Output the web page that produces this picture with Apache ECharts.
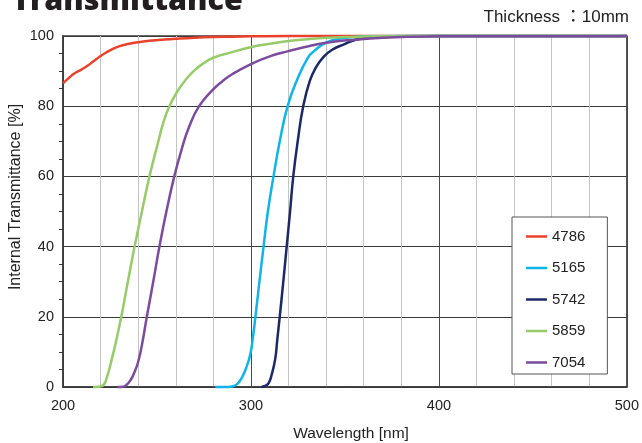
<!DOCTYPE html>
<html>
<head>
<meta charset="utf-8">
<script src="https://cdn.jsdelivr.net/npm/echarts@6/dist/echarts.min.js"></script>
<style>
html,body{margin:0;padding:0;background:#fff;}
#c{width:642px;height:443px;}
</style>
</head>
<body>
<div id="c"></div>
<script>
// ---- data ----
const seriesNames = ['4786', '5165', '5742', '5859', '7054'];
const seriesColors = ['#e8412c', '#10b4e8', '#1c2966', '#97cb6a', '#7b4c9e'];

const wl4786 = [200, 203, 206, 210, 213, 216, 220, 224, 228, 233, 238, 245, 252, 260, 270, 280, 290, 300, 320, 340, 360, 400, 450, 500];
const t4786  = [86.5, 88.0, 89.3, 90.5, 91.5, 92.7, 94.3, 95.6, 96.7, 97.5, 98.1, 98.6, 98.9, 99.2, 99.5, 99.7, 99.8, 99.9, 100, 100, 100, 100, 100, 100];

const wl5165 = [281, 288, 291, 293, 295.3, 297.5, 299.7, 301, 302.3, 304.5, 306.7, 309, 312, 315.5, 319.5, 324.3, 330.4, 334, 338.4, 343, 348, 355, 362, 380, 420, 500];
const t5165  = [0, 0, 0.3, 1.0, 2.8, 5.5, 9.5, 14, 19.7, 30, 40, 50, 60, 70.5, 80, 87.2, 93.9, 95.9, 97.7, 98.7, 99.3, 99.7, 99.9, 100, 100, 100];

const wl5742 = [305.5, 307.5, 309.3, 311, 312.9, 314, 315.3, 317.2, 319, 320.8, 322.5, 325, 327.8, 331.3, 334.5, 338.4, 343, 349.8, 355, 362, 380, 420, 500];
const t5742  = [0, 0.3, 1, 3.5, 8, 13.5, 20, 30, 40, 50, 60, 70.5, 80, 87.2, 91, 93.9, 96, 97.7, 98.8, 99.5, 99.9, 100, 100];

const wl5859 = [216, 219, 221.4, 223.5, 225.8, 228, 231, 234.5, 238.1, 242, 246, 250.4, 253.5, 256.6, 261.2, 265.4, 269.9, 275, 280, 290, 299.7, 310, 320, 330, 340, 350, 370, 400, 450, 500];
const t5859  = [0, 0.1, 0.5, 3.0, 7.6, 12.5, 20, 30, 40, 50, 60, 69.3, 75.5, 80, 84.5, 87.6, 90.2, 92.3, 93.8, 95.4, 96.8, 97.8, 98.6, 99.1, 99.5, 99.7, 99.9, 100, 100, 100];

const wl7054 = [229, 232, 234, 236, 238, 240, 242, 244.6, 248, 251.3, 255, 259.2, 263, 267, 272.4, 279.4, 285, 290, 300, 310, 320, 330, 340, 356.7, 370, 385, 400, 450, 490, 500];
const t7054  = [0, 0.1, 0.7, 2.0, 4.2, 7.2, 12, 20, 30, 40, 50, 60, 67.5, 74, 80, 84.5, 87.2, 89.1, 92, 94.2, 95.7, 97, 98.1, 99, 99.5, 99.8, 99.9, 99.9, 99.9, 100];

const xTicks = [200, 300, 400, 500];
const yTicks = [0, 20, 40, 60, 80, 100];

// ---- build ----
const wls = [wl4786, wl5165, wl5742, wl5859, wl7054];
const ts = [t4786, t5165, t5742, t5859, t7054];
const pair = (xs, ys) => xs.map((x, i) => [x, ys[i]]);

const chart = echarts.init(document.getElementById('c'), null, {renderer: 'canvas'});
const fontFam = '"Liberation Sans", Arial, "Noto Sans CJK JP", sans-serif';

chart.setOption({
  animation: false,
  backgroundColor: '#fff',
  grid: {left: 63, right: 12, top: 36, bottom: 56, show: true, borderColor: '#3a3a3a', borderWidth: 1.5, backgroundColor: 'transparent'},
  xAxis: {
    type: 'value', min: xTicks[0], max: xTicks[xTicks.length - 1], interval: 100,
    axisLine: {show: true, lineStyle: {color: '#3a3a3a', width: 1.5}},
    axisTick: {show: false},
    axisLabel: {color: '#222', fontSize: 14.5, fontFamily: fontFam, margin: 12},
    splitLine: {show: true, lineStyle: {color: '#4a4a4a', width: 1}},
    minorTick: {show: false, splitNumber: 5},
    minorSplitLine: {show: true, lineStyle: {color: '#c4c4c4', width: 1}}
  },
  yAxis: {
    type: 'value', min: yTicks[0], max: yTicks[yTicks.length - 1], interval: 20,
    axisLine: {show: true, lineStyle: {color: '#3a3a3a', width: 1.5}},
    axisTick: {show: false},
    axisLabel: {color: '#222', fontSize: 14.5, fontFamily: fontFam, margin: 9},
    splitLine: {show: true, lineStyle: {color: '#3a3a3a', width: 1}},
    minorTick: {show: true, splitNumber: 4, length: 4, lineStyle: {color: '#3a3a3a', width: 1}},
    minorSplitLine: {show: false}
  },
  legend: {
    orient: 'vertical', left: 512, top: 217,
    padding: [12, 22, 4, 14],
    itemGap: 16.5, itemWidth: 21, itemHeight: 2.5, itemTextGap: 1,
    icon: 'rect',
    backgroundColor: '#fff', borderColor: '#555', borderWidth: 1,
    textStyle: {color: '#222', fontSize: 15, fontFamily: fontFam},
    data: seriesNames
  },
  graphic: [
    {type: 'text', left: 12, top: -14, z: 10,
     style: {text: 'Transmittance', font: '800 30.5px "Open Sans", sans-serif', fill: '#231f20'}},
    {type: 'text', right: 13, top: 9, z: 10,
     style: {text: 'Thickness ：10mm', font: '17px ' + fontFam, fill: '#222'}},
    {type: 'text', x: 16, y: 197, rotation: Math.PI / 2, z: 10,
     style: {text: 'Internal Transmittance [%]', font: '16px ' + fontFam, fill: '#222', align: 'center', verticalAlign: 'middle'}},
    {type: 'text', x: 351, y: 434, z: 10,
     style: {text: 'Wavelength [nm]', font: '15.5px ' + fontFam, fill: '#222', align: 'center', verticalAlign: 'middle'}}
  ],
  series: seriesNames.map((n, i) => ({
    name: n, type: 'line', data: pair(wls[i], ts[i]),
    showSymbol: false, symbol: 'none', smooth: 0.5, clip: false,
    lineStyle: {color: seriesColors[i], width: 2.5},
    itemStyle: {color: seriesColors[i]}
  }))
});
</script>
</body>
</html>
